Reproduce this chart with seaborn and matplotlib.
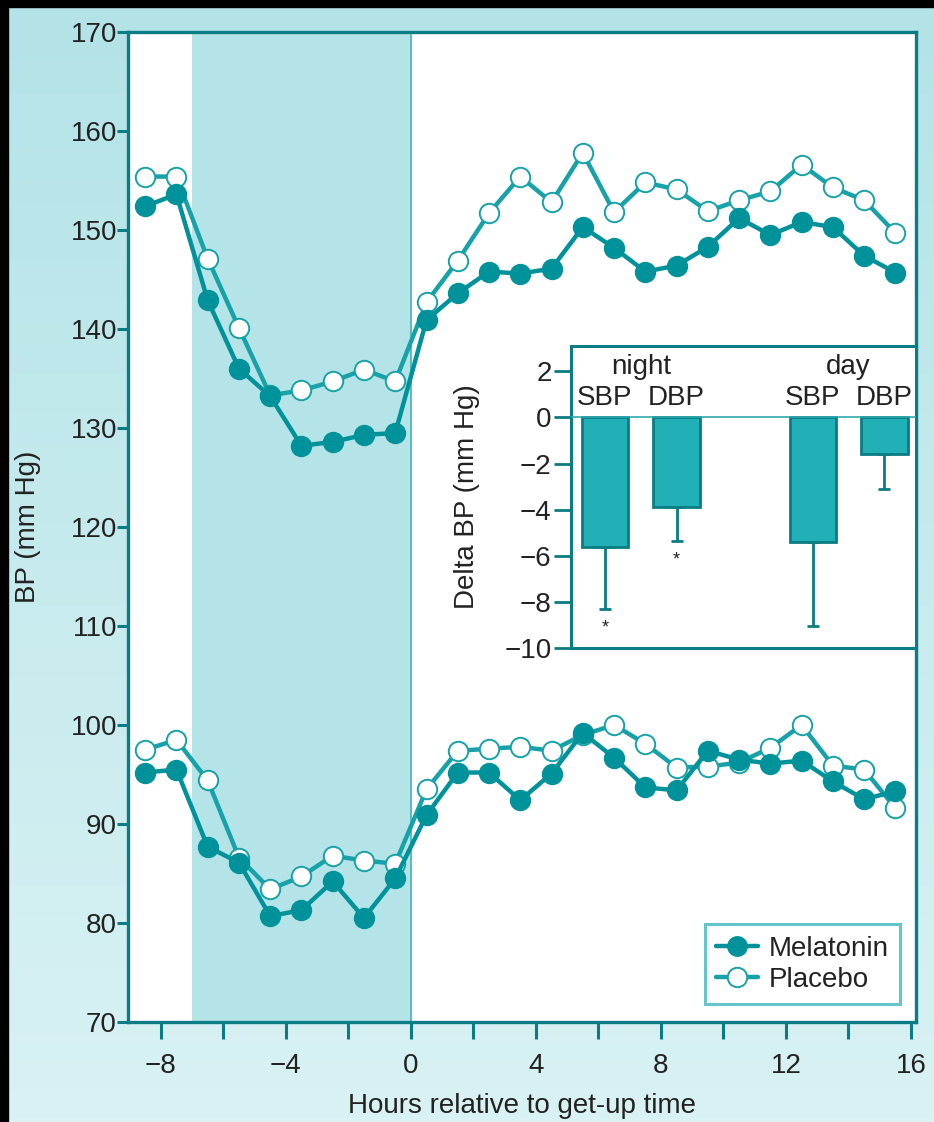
import numpy as np
import pandas as pd
import matplotlib
matplotlib.use("Agg")
import matplotlib.pyplot as plt
from matplotlib.lines import Line2D
from matplotlib.patches import Rectangle
import seaborn as sns

# --- data -------------------------------------------------------------
hours = [-8.5, -7.5, -6.5, -5.5, -4.5, -3.5, -2.5, -1.5, -0.5, 0.5, 1.5, 2.5,
         3.5, 4.5, 5.5, 6.5, 7.5, 8.5, 9.5, 10.5, 11.5, 12.5, 13.5, 14.5, 15.5]

sbp_melatonin = [152.4, 153.6, 142.9, 136.0, 133.2, 128.2, 128.6, 129.3, 129.5,
                 140.9, 143.6, 145.8, 145.6, 146.1, 150.3, 148.2, 145.8, 146.4,
                 148.3, 151.2, 149.5, 150.8, 150.3, 147.4, 145.7]
sbp_placebo = [155.4, 155.4, 147.1, 140.1, 133.3, 133.8, 134.7, 135.9, 134.7,
               142.7, 146.9, 151.7, 155.4, 152.8, 157.8, 151.8, 154.8, 154.1,
               151.9, 153.0, 153.9, 156.6, 154.3, 153.0, 149.7]
dbp_melatonin = [95.2, 95.5, 87.7, 86.1, 80.7, 81.3, 84.2, 80.5, 84.5,
                 90.9, 95.2, 95.2, 92.4, 95.1, 99.2, 96.7, 93.7, 93.4,
                 97.4, 96.5, 96.1, 96.4, 94.3, 92.5, 93.3]
dbp_placebo = [97.5, 98.5, 94.4, 86.6, 83.4, 84.7, 86.8, 86.3, 86.0,
               93.5, 97.4, 97.6, 97.8, 97.4, 99.0, 100.0, 98.1, 95.7,
               95.8, 96.2, 97.7, 100.0, 95.9, 95.5, 91.6]

delta_labels = ["SBP", "DBP", "SBP", "DBP"]
delta_periods = ["night", "night", "day", "day"]
delta_values = [-5.6, -3.9, -5.4, -1.6]
delta_err = [2.7, 1.45, 3.65, 1.5]
delta_signif = [True, True, False, False]

sleep_start, sleep_end = -7, 0

# --- style --------------------------------------------------------------
sns.set_theme(style="white")
plt.rcParams["font.family"] = ["Liberation Sans", "DejaVu Sans"]
plt.rcParams["axes.unicode_minus"] = True

TEAL_DARK = "#0b7c83"
MEL = "#00929a"
PLA = "#16a2a8"
SHADE = "#b5e4e8"
BAR = "#20b0b5"
TXT = "#222222"
FS = 20

fig = plt.figure(figsize=(9.34, 11.22), dpi=100)

# vertical gradient background
bg = fig.add_axes([0, 0, 1, 1], zorder=-10)
grad = np.linspace(0, 1, 256)[:, None]
top_c = np.array([0xb3, 0xe3, 0xe7]) / 255
bot_c = np.array([0xd9, 0xf2, 0xf4]) / 255
img = top_c[None, None, :] * (1 - grad[..., None]) + bot_c[None, None, :] * grad[..., None]
bg.imshow(img, aspect="auto", extent=[0, 1, 0, 1], origin="upper")
bg.set_axis_off()
# dark frame strips at top and left
fig.patches.append(Rectangle((0, 0), 8 / 934, 1, transform=fig.transFigure,
                             color="black", zorder=100))
fig.patches.append(Rectangle((0, 1 - 7 / 1122), 1, 7 / 1122, transform=fig.transFigure,
                             color="black", zorder=100))

# --- main panel ----------------------------------------------------------
ax = fig.add_axes([128 / 934, 1 - 1022 / 1122, 788 / 934, 990 / 1122])
ax.set_facecolor("white")
ax.axvspan(sleep_start, sleep_end, color=SHADE, lw=0, zorder=0)
ax.axvline(sleep_end, color="#3fb3b8", lw=1.2, zorder=0.5)

line_kw = dict(marker="o", markersize=14, linewidth=3.2)
for vals in (sbp_placebo, dbp_placebo):
    sns.lineplot(x=hours, y=vals, ax=ax, color=PLA, markerfacecolor="white",
                 markeredgecolor=PLA, markeredgewidth=1.4, zorder=3, **line_kw)
for vals in (sbp_melatonin, dbp_melatonin):
    sns.lineplot(x=hours, y=vals, ax=ax, color=MEL, markerfacecolor=MEL,
                 markeredgecolor=MEL, markeredgewidth=1.4, zorder=4, **line_kw)

ax.set_xlim(-9.05, 16.16)
ax.set_ylim(70, 170)
ax.set_yticks(np.arange(70, 171, 10))
xt = np.arange(-8, 17, 2)
ax.set_xticks(xt)
ax.set_xticklabels([f"{v:d}".replace("-", "\u2212") if v % 4 == 0 else "" for v in xt])
ax.tick_params(axis="both", direction="out", length=8, width=2.2, color=TEAL_DARK,
               labelsize=FS, labelcolor=TXT, pad=0, bottom=True, left=True,
               top=False, right=False)
ax.tick_params(axis="x", length=12, pad=10)
for side in ["left", "bottom", "top", "right"]:
    ax.spines[side].set_visible(True)
    ax.spines[side].set_color(TEAL_DARK)
    ax.spines[side].set_linewidth(2.4)
ax.set_xlabel("Hours relative to get-up time", fontsize=FS, color=TXT)
ax.set_ylabel("BP (mm Hg)", fontsize=FS, color=TXT)
ax.yaxis.set_label_coords(-0.110, 0.5)
ax.xaxis.set_label_coords(0.5, -0.072)

handles = [
    Line2D([], [], color=MEL, lw=3.2, marker="o", markersize=14,
           markerfacecolor=MEL, markeredgecolor=MEL),
    Line2D([], [], color=PLA, lw=3.2, marker="o", markersize=14,
           markerfacecolor="white", markeredgecolor=PLA, markeredgewidth=1.4),
]
leg = ax.legend(handles, ["Melatonin", "Placebo"], loc="lower right",
                bbox_to_anchor=(0.98, 0.018), fontsize=FS, frameon=True,
                fancybox=False, handlelength=1.5, handletextpad=0.4,
                borderpad=0.4, labelspacing=0.2, borderaxespad=0)
leg.get_frame().set_edgecolor("#3db8bd")
leg.get_frame().set_linewidth(2.2)
leg.get_frame().set_facecolor("white")
for t in leg.get_texts():
    t.set_color(TXT)

# --- inset: delta BP -----------------------------------------------------
ins = fig.add_axes([571 / 934, 1 - 648 / 1122, 345 / 934, 302 / 1122], zorder=5)
ins.set_facecolor("white")
pos = [0, 1, 2.9, 3.9]
sns.barplot(x=pos, y=delta_values, ax=ins, native_scale=True, width=0.65,
            color=BAR, edgecolor=TEAL_DARK, linewidth=2.0, saturation=1, zorder=3)
lower = np.array(delta_err)
ins.errorbar(pos, delta_values, yerr=[lower, np.zeros_like(lower)], fmt="none",
             ecolor=TEAL_DARK, elinewidth=2.0, capsize=4, capthick=2.0, zorder=2)
ins.axhline(0, color="#2fa9ae", lw=1.2, zorder=4)
for p, v, e, s in zip(pos, delta_values, delta_err, delta_signif):
    if s:
        ins.text(p, v - e - 0.85, "*", ha="center", va="center", fontsize=13, color=TXT)
for p, lab in zip(pos, delta_labels):
    ins.text(p, 0.85, lab, ha="center", va="center", fontsize=FS, color=TXT)
for period in ["night", "day"]:
    pp = [p for p, d in zip(pos, delta_periods) if d == period]
    ins.text(np.mean(pp), 2.2, period, ha="center", va="center", fontsize=FS, color=TXT)

ins.set_xlim(-0.474, 4.34)
ins.set_ylim(-10, 3.1)
ins.set_yticks(np.arange(-10, 3, 2))
ins.set_xticks([])
ins.set_xlabel("")
ins.tick_params(axis="y", direction="out", length=12, width=2.0, color=TEAL_DARK,
                labelsize=FS, labelcolor=TXT, pad=2, left=True)
for side in ["left", "bottom", "top", "right"]:
    ins.spines[side].set_visible(True)
    ins.spines[side].set_color(TEAL_DARK)
    ins.spines[side].set_linewidth(2.2)
ins.set_ylabel("Delta BP (mm Hg)", fontsize=FS, color=TXT)
ins.yaxis.set_label_coords(-0.264, 0.5)

fig.savefig("out.png", dpi=100)
